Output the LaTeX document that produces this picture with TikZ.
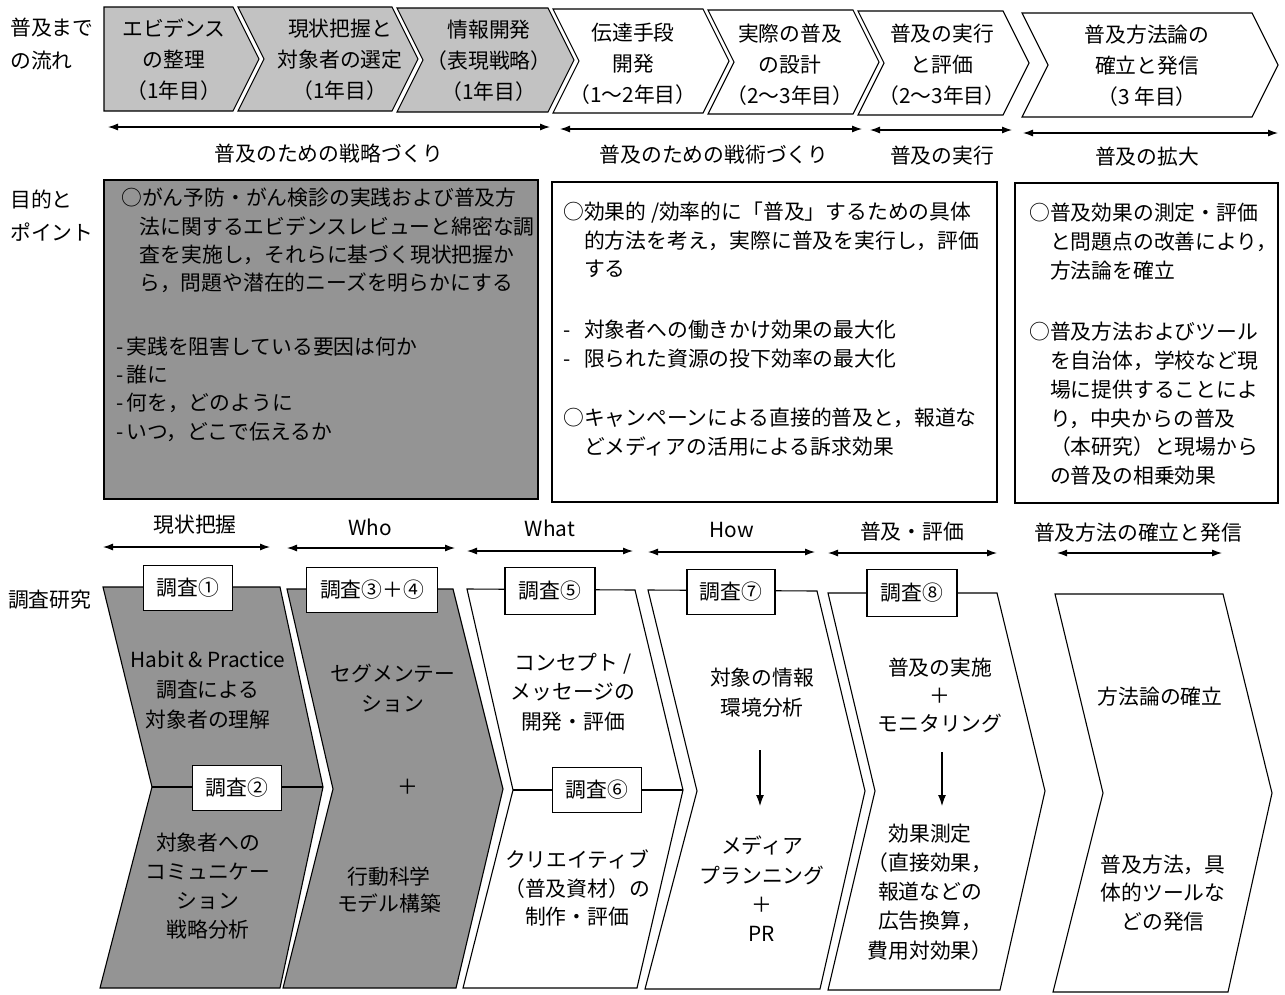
\documentclass[tikz,border=0pt]{standalone}
\usepackage{fontspec}
\setmainfont{Noto Sans CJK JP}
\usetikzlibrary{arrows.meta}
\tikzset{
  ln/.style={line width=1.1pt, line join=miter},
  lite/.style={ln, draw=black, fill=black!24},
  dark/.style={ln, draw=black, fill=black!42},
  plain/.style={ln, draw=black, fill=white},
  lbls/.style={inner sep=0pt, align=center, font=\fontsize{20.8}{#1}\selectfont},
  lbls/.default=30,
  rowlbl/.style={inner sep=0pt, align=left, anchor=west, font=\fontsize{20.8}{33}\selectfont},
  btxt/.style={inner sep=0pt, align=left, anchor=north west},
  tagbox/.style={draw, line width=1.1pt, fill=white, inner sep=0pt, minimum height=45pt, minimum width=#1, font=\fontsize{20.8}{25}\selectfont},
  tagbox/.default=89pt,
  dbl/.style={line width=1.1pt, {Latex[length=10pt,width=7pt]}-{Latex[length=10pt,width=7pt]}},
  down/.style={line width=1.1pt, -{Latex[length=11pt,width=8pt]}},
}
\begin{document}
\begin{tikzpicture}[x=1pt,y=-1pt]
\useasboundingbox (0,0) rectangle (1285,994);
\fill[white] (0,0) rectangle (1285,994);

% row labels
\node[rowlbl] (rl1) at (10,44.5) {普及まで\\の流れ};
\node[rowlbl] (rl2) at (10,216) {目的と\\ポイント};
\node[rowlbl] (rl3) at (8,600) {調査研究};

% ---------- top chevrons ----------
\draw[lite]  (104,7) -- (233,7) -- (259,59) -- (233,111) -- (104,111) -- cycle;
\draw[lite]  (238,7) -- (392,7) -- (418,59) -- (392,111) -- (238,111) -- (264,59) -- cycle;
\draw[lite]  (397,8) -- (548,8) -- (574,60) -- (548,112) -- (397,112) -- (423,60) -- cycle;
\draw[plain] (553,9) -- (703,9) -- (729,61) -- (703,113) -- (553,113) -- (579,61) -- cycle;
\draw[plain] (708,10) -- (853,10) -- (879,62) -- (853,114) -- (708,114) -- (734,62) -- cycle;
\draw[plain] (858,11) -- (1003,11) -- (1029,63) -- (1003,115) -- (858,115) -- (884,63) -- cycle;
\draw[plain] (1022,13) -- (1252,13) -- (1278,65) -- (1252,117) -- (1022,117) -- (1048,65) -- cycle;

\node[lbls=31] (s1) at (174,60) {エビデンス\\の整理\\（1年目）};
\node[lbls=31] (s2) at (340,60) {現状把握と\\対象者の選定\\（1年目）};
\node[lbls=31] (s3) at (489,61) {情報開発\\（表現戦略）\\（1年目）};
\node[lbls=31] (s4) at (633,64) {伝達手段\\開発\\（1〜2年目）};
\node[lbls=31] (s5) at (790,65) {実際の普及\\の設計\\（2〜3年目）};
\node[lbls=31] (s6) at (942,65) {普及の実行\\と評価\\（2〜3年目）};
\node[lbls=31] (s7) at (1147,66) {普及方法論の\\確立と発信\\（3 年目）};

% phase arrows
\coordinate (a1l) at (108,127); \coordinate (a1r) at (550,127);
\coordinate (a2l) at (560,129); \coordinate (a2r) at (862,129);
\coordinate (a3l) at (870,130); \coordinate (a3r) at (1012,130);
\coordinate (a4l) at (1023,133); \coordinate (a4r) at (1278,133);
\draw[dbl] (a1l) -- (a1r);
\draw[dbl] (a2l) -- (a2r);
\draw[dbl] (a3l) -- (a3r);
\draw[dbl] (a4l) -- (a4r);
\node[lbls] (ph1) at (329,154) {普及のための戦略づくり};
\node[lbls] (ph2) at (714,155) {普及のための戦術づくり};
\node[lbls] (ph3) at (942,156) {普及の実行};
\node[lbls] (ph4) at (1147,157) {普及の拡大};

% ---------- purpose boxes ----------
\draw[dark]  (104,180) rectangle (538,499);
\draw[plain] (552,182) rectangle (997,502);
\draw[plain] (1015,183) rectangle (1278,503);

\node[btxt, font=\fontsize{20.8}{28.2}\selectfont] (p1) at (121,188)
 {○がん予防・がん検診の実践および普及方\\
  \hspace*{0.9em}法に関するエビデンスレビューと綿密な調\\
  \hspace*{0.9em}査を実施し，それらに基づく現状把握か\\
  \hspace*{0.9em}ら，問題や潜在的ニーズを明らかにする\\[35.8pt]
  \hspace*{-5pt}-\hspace{3pt}実践を阻害している要因は何か\\
  \hspace*{-5pt}-\hspace{3pt}誰に\\
  \hspace*{-5pt}-\hspace{3pt}何を，どのように\\
  \hspace*{-5pt}-\hspace{3pt}いつ，どこで伝えるか};

\node[btxt, font=\fontsize{20.8}{28.5}\selectfont] (p2) at (563,202)
 {○効果的 /効率的に「普及」するための具体\\
  \hspace*{1em}的方法を考え，実際に普及を実行し，評価\\
  \hspace*{1em}する\\[32.5pt]
  \makebox[1em][l]{-}対象者への働きかけ効果の最大化\\
  \makebox[1em][l]{-}限られた資源の投下効率の最大化\\[31pt]
  ○キャンペーンによる直接的普及と，報道な\\
  \hspace*{1em}どメディアの活用による訴求効果};

\node[btxt, font=\fontsize{20.8}{28.8}\selectfont] (p3) at (1029,203)
 {○普及効果の測定・評価\\
  \hspace*{1em}と問題点の改善により，\\
  \hspace*{1em}方法論を確立\\[32.6pt]
  ○普及方法およびツール\\
  \hspace*{1em}を自治体，学校など現\\
  \hspace*{1em}場に提供することによ\\
  \hspace*{1em}り，中央からの普及\\
  \hspace*{1em}（本研究）と現場から\\
  \hspace*{1em}の普及の相乗効果};

% ---------- research phase labels ----------
\node[lbls] (h1) at (195,525) {現状把握};
\node[lbls] (h2) at (370,527) {Who};
\node[lbls] (h3) at (550,528) {What};
\node[lbls] (h4) at (732,530) {How};
\node[lbls] (h5) at (912,532) {普及・評価};
\node[lbls] (h6) at (1138,533) {普及方法の確立と発信};
\coordinate (b1l) at (103,547); \coordinate (b1r) at (270,547);
\coordinate (b2l) at (287,548); \coordinate (b2r) at (455,548);
\coordinate (b3l) at (467,551); \coordinate (b3r) at (633,551);
\coordinate (b4l) at (648,552); \coordinate (b4r) at (815,552);
\coordinate (b5l) at (828,553); \coordinate (b5r) at (997,553);
\coordinate (b6l) at (1057,553); \coordinate (b6r) at (1222,553);
\draw[dbl] (b1l) -- (b1r);
\draw[dbl] (b2l) -- (b2r);
\draw[dbl] (b3l) -- (b3r);
\draw[dbl] (b4l) -- (b4r);
\draw[dbl] (b5l) -- (b5r);
\draw[dbl] (b6l) -- (b6r);

% ---------- bottom chevrons ----------
\draw[dark]  (103,587) -- (280,587) -- (323,787) -- (280,988) -- (100,988) -- (152,787) -- cycle;
\draw[dark]  (287,589) -- (453,589) -- (503,789) -- (456,988) -- (283,988) -- (333,789) -- cycle;
\draw[plain] (467,589) -- (635,590) -- (683,790) -- (637,988) -- (463,988) -- (513,790) -- cycle;
\draw[plain] (648,590) -- (817,591) -- (865,791) -- (820,989) -- (645,989) -- (697,791) -- cycle;
\draw[plain] (828,593) -- (997,593) -- (1045,791) -- (1000,990) -- (828,990) -- (875,791) -- cycle;
\draw[plain] (1055,594) -- (1223,594) -- (1272,793) -- (1228,992) -- (1053,992) -- (1103,793) -- cycle;

\coordinate (m1l) at (152,787); \coordinate (m1r) at (323,787);
\coordinate (m3l) at (513,790); \coordinate (m3r) at (683,790);
\draw[ln] (m1l) -- (m1r);
\draw[ln] (m3l) -- (m3r);

\node[tagbox] (q1) at (188,588) {調査①};
\node[tagbox] (q2) at (237,788) {調査②};
\node[tagbox=131pt] (q34) at (372,590) {調査③＋④};
\node[tagbox=90pt, minimum height=47pt] (q5) at (550,591) {調査⑤};
\node[tagbox] (q6) at (597,790) {調査⑥};
\node[tagbox=88pt] (q7) at (731,592) {調査⑦};
\node[tagbox=90pt, minimum height=47pt] (q8) at (912,593) {調査⑧};

% texts
\node[lbls=30] (c1a) at (208,690) {Habit \& Practice\\調査による\\対象者の理解};
\node[lbls=29] (c1b) at (208,886) {対象者への\\コミュニケー\\ション\\戦略分析};
\node[lbls=30] (c2a) at (393,688) {セグメンテー\\ション};
\node[lbls] (c2p) at (408,787) {＋};
\node[lbls=27] (c2b) at (389,890) {行動科学\\モデル構築};
\node[lbls=29.5] (c3a) at (573,692) {コンセプト /\\メッセージの\\開発・評価};
\node[lbls=28.5] (c3b) at (577,888) {クリエイティブ\\（普及資材）の\\制作・評価};
\node[lbls=30] (c4a) at (762,693) {対象の情報\\環境分析};
\node[lbls=29.3] (c4b) at (762,889) {メディア\\プランニング\\＋\\PR};
\node[lbls=28] (c5a) at (940,695) {普及の実施\\＋\\モニタリング};
\node[lbls=29.2] (c5b) at (930,892) {効果測定\\（直接効果，\\報道などの\\広告換算，\\費用対効果）};
\node[lbls] (c6a) at (1160,697) {方法論の確立};
\node[lbls=28.5] (c6b) at (1163,893) {普及方法，具\\体的ツールな\\どの発信};

\coordinate (d4s) at (760,750); \coordinate (d4e) at (760,806);
\coordinate (d5s) at (942,752); \coordinate (d5e) at (942,806);
\draw[down] (d4s) -- (d4e);
\draw[down] (d5s) -- (d5e);
\end{tikzpicture}
\end{document}
